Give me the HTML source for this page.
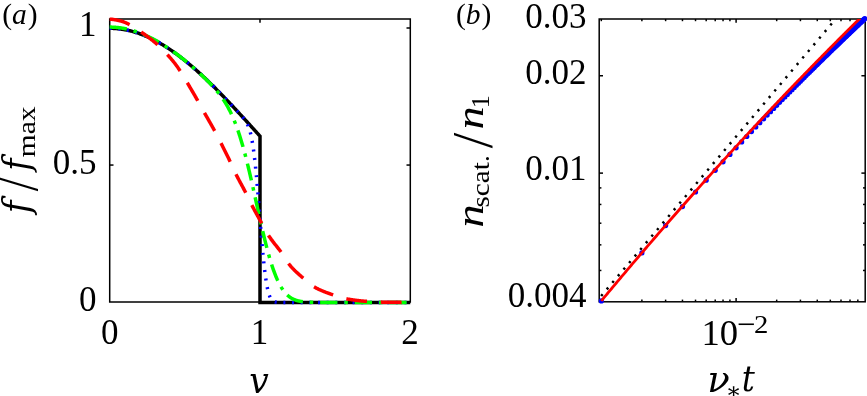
<!DOCTYPE html>
<html><head><meta charset="utf-8"><title>figure</title>
<style>html,body{margin:0;padding:0;background:#fff;}svg{display:block}</style></head>
<body>
<svg width="867" height="396" viewBox="0 0 867 396">
<rect width="867" height="396" fill="#fff"/>
<defs>
<clipPath id="clipa"><rect x="107.7" y="15.0" width="303.20000000000005" height="290.0"/></clipPath>
<clipPath id="clipb"><rect x="599.2" y="19.0" width="266.0" height="282.8"/></clipPath>
</defs>
<g stroke="#000" stroke-width="1.5" fill="none">
<rect x="109.7" y="19.0" width="300.6" height="283.0"/>
<line x1="260.0" y1="19.0" x2="260.0" y2="22.8"/><line x1="260.0" y1="302.0" x2="260.0" y2="298.2"/><line x1="109.7" y1="165.05" x2="113.5" y2="165.05"/><line x1="410.3" y1="165.05" x2="406.5" y2="165.05"/><line x1="109.7" y1="28.00" x2="113.5" y2="28.00"/><line x1="410.3" y1="28.00" x2="406.5" y2="28.00"/>
<rect x="599.2" y="19.0" width="266.0" height="282.8"/>
<line x1="601.30" y1="301.8" x2="601.30" y2="299.6"/><line x1="601.30" y1="19.0" x2="601.30" y2="21.2"/><line x1="641.88" y1="301.8" x2="641.88" y2="299.6"/><line x1="641.88" y1="19.0" x2="641.88" y2="21.2"/><line x1="665.62" y1="301.8" x2="665.62" y2="299.6"/><line x1="665.62" y1="19.0" x2="665.62" y2="21.2"/><line x1="682.46" y1="301.8" x2="682.46" y2="299.6"/><line x1="682.46" y1="19.0" x2="682.46" y2="21.2"/><line x1="695.52" y1="301.8" x2="695.52" y2="299.6"/><line x1="695.52" y1="19.0" x2="695.52" y2="21.2"/><line x1="706.19" y1="301.8" x2="706.19" y2="299.6"/><line x1="706.19" y1="19.0" x2="706.19" y2="21.2"/><line x1="715.22" y1="301.8" x2="715.22" y2="299.6"/><line x1="715.22" y1="19.0" x2="715.22" y2="21.2"/><line x1="723.04" y1="301.8" x2="723.04" y2="299.6"/><line x1="723.04" y1="19.0" x2="723.04" y2="21.2"/><line x1="729.93" y1="301.8" x2="729.93" y2="299.6"/><line x1="729.93" y1="19.0" x2="729.93" y2="21.2"/><line x1="736.10" y1="301.8" x2="736.10" y2="298.0"/><line x1="736.10" y1="19.0" x2="736.10" y2="22.8"/><line x1="776.68" y1="301.8" x2="776.68" y2="299.6"/><line x1="776.68" y1="19.0" x2="776.68" y2="21.2"/><line x1="800.42" y1="301.8" x2="800.42" y2="299.6"/><line x1="800.42" y1="19.0" x2="800.42" y2="21.2"/><line x1="817.26" y1="301.8" x2="817.26" y2="299.6"/><line x1="817.26" y1="19.0" x2="817.26" y2="21.2"/><line x1="830.32" y1="301.8" x2="830.32" y2="299.6"/><line x1="830.32" y1="19.0" x2="830.32" y2="21.2"/><line x1="840.99" y1="301.8" x2="840.99" y2="299.6"/><line x1="840.99" y1="19.0" x2="840.99" y2="21.2"/><line x1="850.02" y1="301.8" x2="850.02" y2="299.6"/><line x1="850.02" y1="19.0" x2="850.02" y2="21.2"/><line x1="857.84" y1="301.8" x2="857.84" y2="299.6"/><line x1="857.84" y1="19.0" x2="857.84" y2="21.2"/><line x1="599.2" y1="270.46" x2="601.4000000000001" y2="270.46"/><line x1="865.2" y1="270.46" x2="863.0" y2="270.46"/><line x1="599.2" y1="244.85" x2="601.4000000000001" y2="244.85"/><line x1="865.2" y1="244.85" x2="863.0" y2="244.85"/><line x1="599.2" y1="223.20" x2="601.4000000000001" y2="223.20"/><line x1="865.2" y1="223.20" x2="863.0" y2="223.20"/><line x1="599.2" y1="204.45" x2="601.4000000000001" y2="204.45"/><line x1="865.2" y1="204.45" x2="863.0" y2="204.45"/><line x1="599.2" y1="187.90" x2="601.4000000000001" y2="187.90"/><line x1="865.2" y1="187.90" x2="863.0" y2="187.90"/><line x1="599.2" y1="173.11" x2="603.0" y2="173.11"/><line x1="865.2" y1="173.11" x2="861.4000000000001" y2="173.11"/><line x1="599.2" y1="75.75" x2="603.0" y2="75.75"/><line x1="865.2" y1="75.75" x2="861.4000000000001" y2="75.75"/>
</g>

<g clip-path="url(#clipa)" fill="none" stroke-linejoin="miter">
<path d="M109.70,28.30 L110.45,28.30 L111.20,28.31 L111.95,28.33 L112.71,28.35 L113.46,28.39 L114.21,28.42 L114.96,28.47 L115.71,28.52 L116.46,28.58 L117.22,28.64 L117.97,28.71 L118.72,28.79 L119.47,28.88 L120.22,28.97 L120.97,29.07 L121.72,29.18 L122.48,29.29 L123.23,29.41 L123.98,29.53 L124.73,29.67 L125.48,29.81 L126.23,29.95 L126.98,30.11 L127.74,30.27 L128.49,30.43 L129.24,30.61 L129.99,30.79 L130.74,30.97 L131.49,31.17 L132.25,31.37 L133.00,31.57 L133.75,31.79 L134.50,32.01 L135.25,32.23 L136.00,32.47 L136.75,32.70 L137.51,32.95 L138.26,33.20 L139.01,33.46 L139.76,33.73 L140.51,34.00 L141.26,34.28 L142.01,34.56 L142.77,34.85 L143.52,35.15 L144.27,35.45 L145.02,35.77 L145.77,36.08 L146.52,36.40 L147.28,36.73 L148.03,37.07 L148.78,37.41 L149.53,37.76 L150.28,38.11 L151.03,38.47 L151.78,38.84 L152.54,39.21 L153.29,39.59 L154.04,39.97 L154.79,40.36 L155.54,40.76 L156.29,41.16 L157.04,41.57 L157.80,41.98 L158.55,42.40 L159.30,42.83 L160.05,43.26 L160.80,43.69 L161.55,44.14 L162.31,44.58 L163.06,45.04 L163.81,45.50 L164.56,45.96 L165.31,46.43 L166.06,46.91 L166.81,47.39 L167.57,47.88 L168.32,48.37 L169.07,48.87 L169.82,49.37 L170.57,49.88 L171.32,50.40 L172.07,50.92 L172.83,51.44 L173.58,51.97 L174.33,52.50 L175.08,53.04 L175.83,53.59 L176.58,54.14 L177.34,54.69 L178.09,55.25 L178.84,55.82 L179.59,56.39 L180.34,56.96 L181.09,57.54 L181.84,58.13 L182.60,58.71 L183.35,59.31 L184.10,59.91 L184.85,60.51 L185.60,61.11 L186.35,61.73 L187.10,62.34 L187.86,62.96 L188.61,63.59 L189.36,64.22 L190.11,64.85 L190.86,65.49 L191.61,66.13 L192.37,66.77 L193.12,67.42 L193.87,68.08 L194.62,68.74 L195.37,69.40 L196.12,70.06 L196.87,70.73 L197.63,71.41 L198.38,72.09 L199.13,72.77 L199.88,73.45 L200.63,74.14 L201.38,74.83 L202.13,75.53 L202.89,76.23 L203.64,76.93 L204.39,77.64 L205.14,78.35 L205.89,79.06 L206.64,79.78 L207.40,80.50 L208.15,81.22 L208.90,81.95 L209.65,82.67 L210.40,83.41 L211.15,84.14 L211.90,84.88 L212.66,85.62 L213.41,86.36 L214.16,87.11 L214.91,87.86 L215.66,88.61 L216.41,89.37 L217.16,90.13 L217.92,90.89 L218.67,91.65 L219.42,92.41 L220.17,93.18 L220.92,93.95 L221.67,94.72 L222.43,95.50 L223.18,96.28 L223.93,97.05 L224.68,97.84 L225.43,98.62 L226.18,99.41 L226.93,100.19 L227.69,100.98 L228.44,101.77 L229.19,102.57 L229.94,103.36 L230.69,104.16 L231.44,104.96 L232.19,105.76 L232.95,106.56 L233.70,107.36 L234.45,108.17 L235.20,108.98 L235.95,109.79 L236.70,110.59 L237.46,111.41 L238.21,112.22 L238.96,113.03 L239.71,113.85 L240.46,114.66 L241.21,115.48 L241.96,116.30 L242.72,117.12 L243.47,117.94 L244.22,118.76 L244.97,119.58 L245.72,120.40 L246.47,121.23 L247.22,122.05 L247.98,122.88 L248.73,123.70 L249.48,124.53 L250.23,125.36 L250.98,126.19 L251.73,127.02 L252.49,127.84 L253.24,128.67 L253.99,129.50 L254.74,130.33 L255.49,131.16 L256.24,131.99 L256.99,132.83 L257.75,133.66 L258.50,134.49 L259.25,135.32 L260.00,136.15 L260.00,302.40 L410.30,302.40" stroke="#000" stroke-width="3.5"/>
<path d="M109.70,28.30 L110.08,28.30 L110.45,28.30 L110.83,28.31 L111.20,28.31 L111.58,28.32 L111.95,28.33 L112.33,28.34 L112.71,28.35 L113.08,28.37 L113.46,28.39 L113.83,28.40 L114.21,28.42 L114.58,28.44 L114.96,28.47 L115.34,28.49 L115.71,28.52 L116.09,28.55 L116.46,28.58 L116.84,28.61 L117.22,28.64 L117.59,28.68 L117.97,28.71 L118.34,28.75 L118.72,28.79 L119.09,28.83 L119.47,28.88 L119.85,28.92 L120.22,28.97 L120.60,29.02 L120.97,29.07 L121.35,29.12 L121.72,29.18 L122.10,29.23 L122.48,29.29 L122.85,29.35 L123.23,29.41 L123.60,29.47 L123.98,29.53 L124.35,29.60 L124.73,29.67 L125.11,29.74 L125.48,29.81 L125.86,29.88 L126.23,29.95 L126.61,30.03 L126.98,30.11 L127.36,30.19 L127.74,30.27 L128.11,30.35 L128.49,30.43 L128.86,30.52 L129.24,30.61 L129.61,30.70 L129.99,30.79 L130.37,30.88 L130.74,30.97 L131.12,31.07 L131.49,31.17 L131.87,31.27 L132.25,31.37 L132.62,31.47 L133.00,31.57 L133.37,31.68 L133.75,31.79 L134.12,31.90 L134.50,32.01 L134.88,32.12 L135.25,32.23 L135.63,32.35 L136.00,32.47 L136.38,32.58 L136.75,32.70 L137.13,32.83 L137.51,32.95 L137.88,33.08 L138.26,33.20 L138.63,33.33 L139.01,33.46 L139.38,33.59 L139.76,33.73 L140.14,33.86 L140.51,34.00 L140.89,34.14 L141.26,34.28 L141.64,34.42 L142.01,34.56 L142.39,34.71 L142.77,34.85 L143.14,35.00 L143.52,35.15 L143.89,35.30 L144.27,35.45 L144.64,35.61 L145.02,35.77 L145.40,35.92 L145.77,36.08 L146.15,36.24 L146.52,36.40 L146.90,36.57 L147.28,36.73 L147.65,36.90 L148.03,37.07 L148.40,37.24 L148.78,37.41 L149.15,37.58 L149.53,37.76 L149.91,37.93 L150.28,38.11 L150.66,38.29 L151.03,38.47 L151.41,38.65 L151.78,38.84 L152.16,39.02 L152.54,39.21 L152.91,39.40 L153.29,39.59 L153.66,39.78 L154.04,39.97 L154.41,40.17 L154.79,40.36 L155.17,40.56 L155.54,40.76 L155.92,40.96 L156.29,41.16 L156.67,41.36 L157.04,41.57 L157.42,41.77 L157.80,41.98 L158.17,42.19 L158.55,42.40 L158.92,42.61 L159.30,42.83 L159.67,43.04 L160.05,43.26 L160.43,43.47 L160.80,43.69 L161.18,43.91 L161.55,44.14 L161.93,44.36 L162.31,44.58 L162.68,44.81 L163.06,45.04 L163.43,45.27 L163.81,45.50 L164.18,45.73 L164.56,45.96 L164.94,46.20 L165.31,46.43 L165.69,46.67 L166.06,46.91 L166.44,47.15 L166.81,47.39 L167.19,47.64 L167.57,47.88 L167.94,48.13 L168.32,48.37 L168.69,48.62 L169.07,48.87 L169.44,49.12 L169.82,49.37 L170.20,49.63 L170.57,49.88 L170.95,50.14 L171.32,50.40 L171.70,50.66 L172.07,50.92 L172.45,51.18 L172.83,51.44 L173.20,51.70 L173.58,51.97 L173.95,52.24 L174.33,52.50 L174.70,52.77 L175.08,53.04 L175.46,53.32 L175.83,53.59 L176.21,53.86 L176.58,54.14 L176.96,54.42 L177.34,54.69 L177.71,54.97 L178.09,55.25 L178.46,55.54 L178.84,55.82 L179.21,56.10 L179.59,56.39 L179.97,56.67 L180.34,56.96 L180.72,57.25 L181.09,57.54 L181.47,57.83 L181.84,58.13 L182.22,58.42 L182.60,58.71 L182.97,59.01 L183.35,59.31 L183.72,59.61 L184.10,59.91 L184.47,60.21 L184.85,60.51 L185.23,60.81 L185.60,61.11 L185.98,61.42 L186.35,61.73 L186.73,62.03 L187.10,62.34 L187.48,62.65 L187.86,62.96 L188.23,63.27 L188.61,63.59 L188.98,63.90 L189.36,64.22 L189.73,64.53 L190.11,64.85 L190.49,65.17 L190.86,65.49 L191.24,65.81 L191.61,66.13 L191.99,66.45 L192.37,66.77 L192.74,67.10 L193.12,67.42 L193.49,67.75 L193.87,68.08 L194.24,68.41 L194.62,68.74 L195.00,69.07 L195.37,69.40 L195.75,69.73 L196.12,70.06 L196.50,70.40 L196.87,70.73 L197.25,71.07 L197.63,71.41 L198.00,71.75 L198.38,72.09 L198.75,72.43 L199.13,72.77 L199.50,73.11 L199.88,73.45 L200.26,73.80 L200.63,74.14 L201.01,74.49 L201.38,74.83 L201.76,75.18 L202.13,75.53 L202.51,75.88 L202.89,76.23 L203.26,76.58 L203.64,76.93 L204.01,77.28 L204.39,77.64 L204.76,77.99 L205.14,78.35 L205.52,78.70 L205.89,79.06 L206.27,79.42 L206.64,79.78 L207.02,80.14 L207.40,80.50 L207.77,80.86 L208.15,81.22 L208.52,81.58 L208.90,81.95 L209.27,82.31 L209.65,82.67 L210.03,83.04 L210.40,83.41 L210.78,83.77 L211.15,84.14 L211.53,84.51 L211.90,84.88 L212.28,85.25 L212.66,85.62 L213.03,85.99 L213.41,86.36 L213.78,86.74 L214.16,87.11 L214.53,87.49 L214.91,87.86 L215.29,88.24 L215.66,88.61 L216.04,88.99 L216.41,89.37 L216.79,89.75 L217.16,90.13 L217.54,90.51 L217.92,90.89 L218.29,91.27 L218.67,91.65 L219.04,92.03 L219.42,92.41 L219.79,92.80 L220.17,93.18 L220.55,93.57 L220.92,93.95 L221.30,94.34 L221.67,94.72 L222.05,95.11 L222.43,95.50 L222.80,95.89 L223.18,96.28 L223.55,96.66 L223.93,97.05 L224.30,97.45 L224.68,97.84 L225.06,98.23 L225.43,98.62 L225.81,99.01 L226.18,99.41 L226.56,99.80 L226.93,100.19 L227.31,100.59 L227.69,100.98 L228.06,101.38 L228.44,101.77 L228.81,102.17 L229.19,102.57 L229.56,102.96 L229.94,103.36 L230.32,103.76 L230.69,104.16 L231.07,104.56 L231.44,104.96 L231.82,105.36 L232.19,105.76 L232.57,106.16 L232.95,106.56 L233.32,106.96 L233.70,107.36 L234.07,107.77 L234.45,108.17 L234.82,108.57 L235.20,108.98 L235.58,109.38 L235.95,109.79 L236.33,110.19 L236.70,110.60 L237.08,111.00 L237.46,111.41 L237.83,111.82 L238.21,112.23 L238.58,112.63 L238.96,113.05 L239.33,113.46 L239.71,113.87 L240.09,114.28 L240.46,114.70 L240.84,115.12 L241.21,115.54 L241.59,115.97 L241.96,116.40 L242.34,116.84 L242.72,117.28 L243.09,117.73 L243.47,118.19 L243.84,118.67 L244.22,119.15 L244.59,119.66 L244.97,120.18 L245.35,120.72 L245.72,121.29 L246.10,121.90 L246.47,122.53 L246.85,123.21 L247.22,123.93 L247.60,124.70 L247.98,125.53 L248.35,126.43 L248.73,127.40 L249.10,128.45 L249.48,129.60 L249.85,130.84 L250.23,132.18 L250.61,133.65 L250.98,135.24 L251.36,136.96 L251.73,138.83 L252.11,140.85 L252.49,143.02 L252.86,145.36 L253.24,147.87 L253.61,150.56 L253.99,153.42 L254.36,156.46 L254.74,159.68 L255.12,163.08 L255.49,166.66 L255.87,170.40 L256.24,174.30 L256.62,178.36 L256.99,182.55 L257.37,186.87 L257.75,191.31 L258.12,195.84 L258.50,200.45 L258.87,205.12 L259.25,209.82 L259.62,214.55 L260.00,219.27 L260.38,223.98 L260.75,228.64 L261.13,233.23 L261.50,237.75 L261.88,242.16 L262.25,246.45 L262.63,250.61 L263.01,254.62 L263.38,258.47 L263.76,262.16 L264.13,265.66 L264.51,268.97 L264.88,272.10 L265.26,275.03 L265.64,277.77 L266.01,280.32 L266.39,282.68 L266.76,284.85 L267.14,286.85 L267.52,288.67 L267.89,290.32 L268.27,291.82 L268.64,293.17 L269.02,294.37 L269.39,295.45 L269.77,296.41 L270.15,297.25 L270.52,298.00 L270.90,298.65 L271.27,299.22 L271.65,299.71 L272.02,300.14 L272.40,300.50 L272.78,300.82 L273.15,301.09 L273.53,301.31 L273.90,301.50 L274.28,301.66 L274.65,301.80 L275.03,301.91 L275.41,302.00 L275.78,302.08 L276.16,302.14 L276.53,302.19 L276.91,302.24 L277.28,302.27 L277.66,302.30 L278.04,302.32 L278.41,302.34 L278.79,302.35 L279.16,302.36 L279.54,302.37 L279.91,302.38 L280.29,302.38 L280.67,302.39 L281.04,302.39 L281.42,302.39 L281.79,302.39 L282.17,302.40 L282.55,302.40 L282.92,302.40 L283.30,302.40 L283.67,302.40 L284.05,302.40 L284.42,302.40 L284.80,302.40 L285.18,302.40 L285.55,302.40 L285.93,302.40 L286.30,302.40 L286.68,302.40 L287.05,302.40 L287.43,302.40 L287.81,302.40 L288.18,302.40 L288.56,302.40 L288.93,302.40 L289.31,302.40 L289.68,302.40 L290.06,302.40 L290.44,302.40 L290.81,302.40 L291.19,302.40 L291.56,302.40 L291.94,302.40 L292.31,302.40 L292.69,302.40 L293.07,302.40 L293.44,302.40 L293.82,302.40 L294.19,302.40 L294.57,302.40 L294.94,302.40 L295.32,302.40 L295.70,302.40 L296.07,302.40 L296.45,302.40 L296.82,302.40 L297.20,302.40 L297.57,302.40 L297.95,302.40 L298.33,302.40 L298.70,302.40 L299.08,302.40 L299.45,302.40 L299.83,302.40 L300.21,302.40 L300.58,302.40 L300.96,302.40 L301.33,302.40 L301.71,302.40 L302.08,302.40 L302.46,302.40 L302.84,302.40 L303.21,302.40 L303.59,302.40 L303.96,302.40 L304.34,302.40 L304.71,302.40 L305.09,302.40 L305.47,302.40 L305.84,302.40 L306.22,302.40 L306.59,302.40 L306.97,302.40 L307.34,302.40 L307.72,302.40 L308.10,302.40 L308.47,302.40 L308.85,302.40 L309.22,302.40 L309.60,302.40 L309.97,302.40 L310.35,302.40 L310.73,302.40 L311.10,302.40 L311.48,302.40 L311.85,302.40 L312.23,302.40 L312.61,302.40 L312.98,302.40 L313.36,302.40 L313.73,302.40 L314.11,302.40 L314.48,302.40 L314.86,302.40 L315.24,302.40 L315.61,302.40 L315.99,302.40 L316.36,302.40 L316.74,302.40 L317.11,302.40 L317.49,302.40 L317.87,302.40 L318.24,302.40 L318.62,302.40 L318.99,302.40 L319.37,302.40 L319.74,302.40 L320.12,302.40 L320.50,302.40 L320.87,302.40 L321.25,302.40 L321.62,302.40 L322.00,302.40 L322.37,302.40 L322.75,302.40 L323.13,302.40 L323.50,302.40 L323.88,302.40 L324.25,302.40 L324.63,302.40 L325.00,302.40 L325.38,302.40 L325.76,302.40 L326.13,302.40 L326.51,302.40 L326.88,302.40 L327.26,302.40 L327.63,302.40 L328.01,302.40 L328.39,302.40 L328.76,302.40 L329.14,302.40 L329.51,302.40 L329.89,302.40 L330.27,302.40 L330.64,302.40 L331.02,302.40 L331.39,302.40 L331.77,302.40 L332.14,302.40 L332.52,302.40 L332.90,302.40 L333.27,302.40 L333.65,302.40 L334.02,302.40 L334.40,302.40 L334.77,302.40 L335.15,302.40 L335.53,302.40 L335.90,302.40 L336.28,302.40 L336.65,302.40 L337.03,302.40 L337.40,302.40 L337.78,302.40 L338.16,302.40 L338.53,302.40 L338.91,302.40 L339.28,302.40 L339.66,302.40 L340.03,302.40 L340.41,302.40 L340.79,302.40 L341.16,302.40 L341.54,302.40 L341.91,302.40 L342.29,302.40 L342.67,302.40 L343.04,302.40 L343.42,302.40 L343.79,302.40 L344.17,302.40 L344.54,302.40 L344.92,302.40 L345.30,302.40 L345.67,302.40 L346.05,302.40 L346.42,302.40 L346.80,302.40 L347.17,302.40 L347.55,302.40 L347.93,302.40 L348.30,302.40 L348.68,302.40 L349.05,302.40 L349.43,302.40 L349.80,302.40 L350.18,302.40 L350.56,302.40 L350.93,302.40 L351.31,302.40 L351.68,302.40 L352.06,302.40 L352.43,302.40 L352.81,302.40 L353.19,302.40 L353.56,302.40 L353.94,302.40 L354.31,302.40 L354.69,302.40 L355.06,302.40 L355.44,302.40 L355.82,302.40 L356.19,302.40 L356.57,302.40 L356.94,302.40 L357.32,302.40 L357.70,302.40 L358.07,302.40 L358.45,302.40 L358.82,302.40 L359.20,302.40 L359.57,302.40 L359.95,302.40 L360.33,302.40 L360.70,302.40 L361.08,302.40 L361.45,302.40 L361.83,302.40 L362.20,302.40 L362.58,302.40 L362.96,302.40 L363.33,302.40 L363.71,302.40 L364.08,302.40 L364.46,302.40 L364.83,302.40 L365.21,302.40 L365.59,302.40 L365.96,302.40 L366.34,302.40 L366.71,302.40 L367.09,302.40 L367.46,302.40 L367.84,302.40 L368.22,302.40 L368.59,302.40 L368.97,302.40 L369.34,302.40 L369.72,302.40 L370.09,302.40 L370.47,302.40 L370.85,302.40 L371.22,302.40 L371.60,302.40 L371.97,302.40 L372.35,302.40 L372.73,302.40 L373.10,302.40 L373.48,302.40 L373.85,302.40 L374.23,302.40 L374.60,302.40 L374.98,302.40 L375.36,302.40 L375.73,302.40 L376.11,302.40 L376.48,302.40 L376.86,302.40 L377.23,302.40 L377.61,302.40 L377.99,302.40 L378.36,302.40 L378.74,302.40 L379.11,302.40 L379.49,302.40 L379.86,302.40 L380.24,302.40 L380.62,302.40 L380.99,302.40 L381.37,302.40 L381.74,302.40 L382.12,302.40 L382.49,302.40 L382.87,302.40 L383.25,302.40 L383.62,302.40 L384.00,302.40 L384.37,302.40 L384.75,302.40 L385.12,302.40 L385.50,302.40 L385.88,302.40 L386.25,302.40 L386.63,302.40 L387.00,302.40 L387.38,302.40 L387.75,302.40 L388.13,302.40 L388.51,302.40 L388.88,302.40 L389.26,302.40 L389.63,302.40 L390.01,302.40 L390.39,302.40 L390.76,302.40 L391.14,302.40 L391.51,302.40 L391.89,302.40 L392.26,302.40 L392.64,302.40 L393.02,302.40 L393.39,302.40 L393.77,302.40 L394.14,302.40 L394.52,302.40 L394.89,302.40 L395.27,302.40 L395.65,302.40 L396.02,302.40 L396.40,302.40 L396.77,302.40 L397.15,302.40 L397.52,302.40 L397.90,302.40 L398.28,302.40 L398.65,302.40 L399.03,302.40 L399.40,302.40 L399.78,302.40 L400.15,302.40 L400.53,302.40 L400.91,302.40 L401.28,302.40 L401.66,302.40 L402.03,302.40 L402.41,302.40 L402.79,302.40 L403.16,302.40 L403.54,302.40 L403.91,302.40 L404.29,302.40 L404.66,302.40 L405.04,302.40 L405.42,302.40 L405.79,302.40 L406.17,302.40 L406.54,302.40 L406.92,302.40 L407.29,302.40 L407.67,302.40 L408.05,302.40 L408.42,302.40 L408.80,302.40 L409.17,302.40 L409.55,302.40 L409.92,302.40 L410.30,302.40" stroke="#0000ff" stroke-width="3.5" stroke-dasharray="2 6.65"/>
<path d="M109.70,27.09 L110.08,27.09 L110.45,27.10 L110.83,27.10 L111.20,27.11 L111.58,27.12 L111.95,27.13 L112.33,27.14 L112.71,27.15 L113.08,27.17 L113.46,27.19 L113.83,27.21 L114.21,27.23 L114.58,27.25 L114.96,27.28 L115.34,27.31 L115.71,27.34 L116.09,27.37 L116.46,27.40 L116.84,27.43 L117.22,27.47 L117.59,27.51 L117.97,27.55 L118.34,27.59 L118.72,27.64 L119.09,27.68 L119.47,27.73 L119.85,27.78 L120.22,27.83 L120.60,27.88 L120.97,27.94 L121.35,28.00 L121.72,28.06 L122.10,28.12 L122.48,28.18 L122.85,28.24 L123.23,28.31 L123.60,28.38 L123.98,28.45 L124.35,28.52 L124.73,28.59 L125.11,28.67 L125.48,28.75 L125.86,28.82 L126.23,28.91 L126.61,28.99 L126.98,29.07 L127.36,29.16 L127.74,29.25 L128.11,29.34 L128.49,29.43 L128.86,29.52 L129.24,29.62 L129.61,29.71 L129.99,29.81 L130.37,29.91 L130.74,30.01 L131.12,30.12 L131.49,30.22 L131.87,30.33 L132.25,30.44 L132.62,30.55 L133.00,30.66 L133.37,30.77 L133.75,30.89 L134.12,31.01 L134.50,31.13 L134.88,31.25 L135.25,31.37 L135.63,31.49 L136.00,31.62 L136.38,31.75 L136.75,31.88 L137.13,32.01 L137.51,32.14 L137.88,32.27 L138.26,32.41 L138.63,32.55 L139.01,32.69 L139.38,32.83 L139.76,32.97 L140.14,33.11 L140.51,33.26 L140.89,33.41 L141.26,33.56 L141.64,33.71 L142.01,33.86 L142.39,34.01 L142.77,34.17 L143.14,34.32 L143.52,34.48 L143.89,34.64 L144.27,34.80 L144.64,34.97 L145.02,35.13 L145.40,35.30 L145.77,35.46 L146.15,35.63 L146.52,35.80 L146.90,35.98 L147.28,36.15 L147.65,36.32 L148.03,36.50 L148.40,36.68 L148.78,36.86 L149.15,37.04 L149.53,37.22 L149.91,37.41 L150.28,37.59 L150.66,37.78 L151.03,37.97 L151.41,38.16 L151.78,38.35 L152.16,38.54 L152.54,38.74 L152.91,38.94 L153.29,39.13 L153.66,39.33 L154.04,39.53 L154.41,39.73 L154.79,39.94 L155.17,40.14 L155.54,40.35 L155.92,40.56 L156.29,40.76 L156.67,40.97 L157.04,41.19 L157.42,41.40 L157.80,41.61 L158.17,41.83 L158.55,42.05 L158.92,42.27 L159.30,42.49 L159.67,42.71 L160.05,42.93 L160.43,43.15 L160.80,43.38 L161.18,43.61 L161.55,43.83 L161.93,44.06 L162.31,44.29 L162.68,44.53 L163.06,44.76 L163.43,44.99 L163.81,45.23 L164.18,45.47 L164.56,45.71 L164.94,45.95 L165.31,46.19 L165.69,46.43 L166.06,46.68 L166.44,46.92 L166.81,47.17 L167.19,47.41 L167.57,47.66 L167.94,47.91 L168.32,48.17 L168.69,48.42 L169.07,48.67 L169.44,48.93 L169.82,49.19 L170.20,49.44 L170.57,49.70 L170.95,49.96 L171.32,50.23 L171.70,50.49 L172.07,50.75 L172.45,51.02 L172.83,51.28 L173.20,51.55 L173.58,51.82 L173.95,52.09 L174.33,52.36 L174.70,52.64 L175.08,52.91 L175.46,53.19 L175.83,53.46 L176.21,53.74 L176.58,54.02 L176.96,54.30 L177.34,54.58 L177.71,54.86 L178.09,55.14 L178.46,55.43 L178.84,55.72 L179.21,56.00 L179.59,56.29 L179.97,56.58 L180.34,56.87 L180.72,57.16 L181.09,57.45 L181.47,57.75 L181.84,58.04 L182.22,58.34 L182.60,58.64 L182.97,58.93 L183.35,59.23 L183.72,59.53 L184.10,59.84 L184.47,60.14 L184.85,60.44 L185.23,60.75 L185.60,61.05 L185.98,61.36 L186.35,61.67 L186.73,61.98 L187.10,62.29 L187.48,62.60 L187.86,62.91 L188.23,63.23 L188.61,63.54 L188.98,63.86 L189.36,64.17 L189.73,64.49 L190.11,64.81 L190.49,65.13 L190.86,65.45 L191.24,65.77 L191.61,66.10 L191.99,66.42 L192.37,66.75 L192.74,67.07 L193.12,67.40 L193.49,67.73 L193.87,68.06 L194.24,68.39 L194.62,68.72 L195.00,69.05 L195.37,69.39 L195.75,69.72 L196.12,70.06 L196.50,70.40 L196.87,70.73 L197.25,71.07 L197.63,71.41 L198.00,71.76 L198.38,72.10 L198.75,72.44 L199.13,72.79 L199.50,73.13 L199.88,73.48 L200.26,73.83 L200.63,74.18 L201.01,74.53 L201.38,74.88 L201.76,75.24 L202.13,75.59 L202.51,75.95 L202.89,76.30 L203.26,76.66 L203.64,77.02 L204.01,77.38 L204.39,77.75 L204.76,78.11 L205.14,78.48 L205.52,78.84 L205.89,79.21 L206.27,79.58 L206.64,79.96 L207.02,80.33 L207.40,80.71 L207.77,81.08 L208.15,81.46 L208.52,81.85 L208.90,82.23 L209.27,82.62 L209.65,83.00 L210.03,83.39 L210.40,83.79 L210.78,84.18 L211.15,84.58 L211.53,84.98 L211.90,85.38 L212.28,85.79 L212.66,86.20 L213.03,86.61 L213.41,87.02 L213.78,87.44 L214.16,87.86 L214.53,88.29 L214.91,88.72 L215.29,89.15 L215.66,89.58 L216.04,90.02 L216.41,90.47 L216.79,90.92 L217.16,91.37 L217.54,91.83 L217.92,92.29 L218.29,92.76 L218.67,93.23 L219.04,93.71 L219.42,94.20 L219.79,94.69 L220.17,95.18 L220.55,95.69 L220.92,96.20 L221.30,96.71 L221.67,97.23 L222.05,97.77 L222.43,98.30 L222.80,98.85 L223.18,99.40 L223.55,99.96 L223.93,100.53 L224.30,101.11 L224.68,101.70 L225.06,102.30 L225.43,102.90 L225.81,103.52 L226.18,104.15 L226.56,104.78 L226.93,105.43 L227.31,106.09 L227.69,106.76 L228.06,107.44 L228.44,108.14 L228.81,108.84 L229.19,109.56 L229.56,110.29 L229.94,111.03 L230.32,111.79 L230.69,112.56 L231.07,113.35 L231.44,114.15 L231.82,114.96 L232.19,115.79 L232.57,116.63 L232.95,117.49 L233.32,118.36 L233.70,119.25 L234.07,120.16 L234.45,121.08 L234.82,122.02 L235.20,122.97 L235.58,123.95 L235.95,124.93 L236.33,125.94 L236.70,126.96 L237.08,128.00 L237.46,129.06 L237.83,130.14 L238.21,131.23 L238.58,132.35 L238.96,133.48 L239.33,134.62 L239.71,135.79 L240.09,136.98 L240.46,138.18 L240.84,139.40 L241.21,140.64 L241.59,141.90 L241.96,143.18 L242.34,144.47 L242.72,145.78 L243.09,147.11 L243.47,148.46 L243.84,149.82 L244.22,151.21 L244.59,152.60 L244.97,154.02 L245.35,155.45 L245.72,156.90 L246.10,158.37 L246.47,159.85 L246.85,161.34 L247.22,162.85 L247.60,164.38 L247.98,165.92 L248.35,167.47 L248.73,169.04 L249.10,170.62 L249.48,172.21 L249.85,173.81 L250.23,175.43 L250.61,177.05 L250.98,178.69 L251.36,180.33 L251.73,181.99 L252.11,183.65 L252.49,185.32 L252.86,187.00 L253.24,188.68 L253.61,190.37 L253.99,192.06 L254.36,193.76 L254.74,195.46 L255.12,197.17 L255.49,198.88 L255.87,200.59 L256.24,202.30 L256.62,204.01 L256.99,205.72 L257.37,207.42 L257.75,209.13 L258.12,210.83 L258.50,212.53 L258.87,214.23 L259.25,215.91 L259.62,217.60 L260.00,219.27 L260.38,220.94 L260.75,222.61 L261.13,224.26 L261.50,225.90 L261.88,227.54 L262.25,229.16 L262.63,230.77 L263.01,232.37 L263.38,233.95 L263.76,235.53 L264.13,237.09 L264.51,238.63 L264.88,240.16 L265.26,241.67 L265.64,243.17 L266.01,244.65 L266.39,246.11 L266.76,247.56 L267.14,248.99 L267.52,250.39 L267.89,251.78 L268.27,253.15 L268.64,254.51 L269.02,255.84 L269.39,257.15 L269.77,258.44 L270.15,259.70 L270.52,260.95 L270.90,262.18 L271.27,263.38 L271.65,264.56 L272.02,265.72 L272.40,266.86 L272.78,267.98 L273.15,269.07 L273.53,270.14 L273.90,271.19 L274.28,272.22 L274.65,273.22 L275.03,274.20 L275.41,275.16 L275.78,276.10 L276.16,277.01 L276.53,277.91 L276.91,278.78 L277.28,279.63 L277.66,280.45 L278.04,281.26 L278.41,282.04 L278.79,282.80 L279.16,283.55 L279.54,284.27 L279.91,284.97 L280.29,285.65 L280.67,286.31 L281.04,286.95 L281.42,287.57 L281.79,288.17 L282.17,288.75 L282.55,289.32 L282.92,289.87 L283.30,290.39 L283.67,290.91 L284.05,291.40 L284.42,291.88 L284.80,292.34 L285.18,292.78 L285.55,293.21 L285.93,293.62 L286.30,294.02 L286.68,294.41 L287.05,294.78 L287.43,295.13 L287.81,295.47 L288.18,295.80 L288.56,296.12 L288.93,296.42 L289.31,296.71 L289.68,296.99 L290.06,297.26 L290.44,297.51 L290.81,297.76 L291.19,297.99 L291.56,298.22 L291.94,298.43 L292.31,298.64 L292.69,298.84 L293.07,299.03 L293.44,299.20 L293.82,299.38 L294.19,299.54 L294.57,299.69 L294.94,299.84 L295.32,299.98 L295.70,300.12 L296.07,300.25 L296.45,300.37 L296.82,300.48 L297.20,300.59 L297.57,300.70 L297.95,300.80 L298.33,300.89 L298.70,300.98 L299.08,301.06 L299.45,301.14 L299.83,301.22 L300.21,301.29 L300.58,301.36 L300.96,301.42 L301.33,301.48 L301.71,301.54 L302.08,301.59 L302.46,301.65 L302.84,301.69 L303.21,301.74 L303.59,301.78 L303.96,301.82 L304.34,301.86 L304.71,301.90 L305.09,301.93 L305.47,301.96 L305.84,301.99 L306.22,302.02 L306.59,302.04 L306.97,302.07 L307.34,302.09 L307.72,302.11 L308.10,302.13 L308.47,302.15 L308.85,302.17 L309.22,302.18 L309.60,302.20 L309.97,302.21 L310.35,302.23 L310.73,302.24 L311.10,302.25 L311.48,302.26 L311.85,302.27 L312.23,302.28 L312.61,302.29 L312.98,302.30 L313.36,302.31 L313.73,302.31 L314.11,302.32 L314.48,302.33 L314.86,302.33 L315.24,302.34 L315.61,302.34 L315.99,302.35 L316.36,302.35 L316.74,302.36 L317.11,302.36 L317.49,302.36 L317.87,302.36 L318.24,302.37 L318.62,302.37 L318.99,302.37 L319.37,302.38 L319.74,302.38 L320.12,302.38 L320.50,302.38 L320.87,302.38 L321.25,302.38 L321.62,302.39 L322.00,302.39 L322.37,302.39 L322.75,302.39 L323.13,302.39 L323.50,302.39 L323.88,302.39 L324.25,302.39 L324.63,302.39 L325.00,302.39 L325.38,302.39 L325.76,302.39 L326.13,302.40 L326.51,302.40 L326.88,302.40 L327.26,302.40 L327.63,302.40 L328.01,302.40 L328.39,302.40 L328.76,302.40 L329.14,302.40 L329.51,302.40 L329.89,302.40 L330.27,302.40 L330.64,302.40 L331.02,302.40 L331.39,302.40 L331.77,302.40 L332.14,302.40 L332.52,302.40 L332.90,302.40 L333.27,302.40 L333.65,302.40 L334.02,302.40 L334.40,302.40 L334.77,302.40 L335.15,302.40 L335.53,302.40 L335.90,302.40 L336.28,302.40 L336.65,302.40 L337.03,302.40 L337.40,302.40 L337.78,302.40 L338.16,302.40 L338.53,302.40 L338.91,302.40 L339.28,302.40 L339.66,302.40 L340.03,302.40 L340.41,302.40 L340.79,302.40 L341.16,302.40 L341.54,302.40 L341.91,302.40 L342.29,302.40 L342.67,302.40 L343.04,302.40 L343.42,302.40 L343.79,302.40 L344.17,302.40 L344.54,302.40 L344.92,302.40 L345.30,302.40 L345.67,302.40 L346.05,302.40 L346.42,302.40 L346.80,302.40 L347.17,302.40 L347.55,302.40 L347.93,302.40 L348.30,302.40 L348.68,302.40 L349.05,302.40 L349.43,302.40 L349.80,302.40 L350.18,302.40 L350.56,302.40 L350.93,302.40 L351.31,302.40 L351.68,302.40 L352.06,302.40 L352.43,302.40 L352.81,302.40 L353.19,302.40 L353.56,302.40 L353.94,302.40 L354.31,302.40 L354.69,302.40 L355.06,302.40 L355.44,302.40 L355.82,302.40 L356.19,302.40 L356.57,302.40 L356.94,302.40 L357.32,302.40 L357.70,302.40 L358.07,302.40 L358.45,302.40 L358.82,302.40 L359.20,302.40 L359.57,302.40 L359.95,302.40 L360.33,302.40 L360.70,302.40 L361.08,302.40 L361.45,302.40 L361.83,302.40 L362.20,302.40 L362.58,302.40 L362.96,302.40 L363.33,302.40 L363.71,302.40 L364.08,302.40 L364.46,302.40 L364.83,302.40 L365.21,302.40 L365.59,302.40 L365.96,302.40 L366.34,302.40 L366.71,302.40 L367.09,302.40 L367.46,302.40 L367.84,302.40 L368.22,302.40 L368.59,302.40 L368.97,302.40 L369.34,302.40 L369.72,302.40 L370.09,302.40 L370.47,302.40 L370.85,302.40 L371.22,302.40 L371.60,302.40 L371.97,302.40 L372.35,302.40 L372.73,302.40 L373.10,302.40 L373.48,302.40 L373.85,302.40 L374.23,302.40 L374.60,302.40 L374.98,302.40 L375.36,302.40 L375.73,302.40 L376.11,302.40 L376.48,302.40 L376.86,302.40 L377.23,302.40 L377.61,302.40 L377.99,302.40 L378.36,302.40 L378.74,302.40 L379.11,302.40 L379.49,302.40 L379.86,302.40 L380.24,302.40 L380.62,302.40 L380.99,302.40 L381.37,302.40 L381.74,302.40 L382.12,302.40 L382.49,302.40 L382.87,302.40 L383.25,302.40 L383.62,302.40 L384.00,302.40 L384.37,302.40 L384.75,302.40 L385.12,302.40 L385.50,302.40 L385.88,302.40 L386.25,302.40 L386.63,302.40 L387.00,302.40 L387.38,302.40 L387.75,302.40 L388.13,302.40 L388.51,302.40 L388.88,302.40 L389.26,302.40 L389.63,302.40 L390.01,302.40 L390.39,302.40 L390.76,302.40 L391.14,302.40 L391.51,302.40 L391.89,302.40 L392.26,302.40 L392.64,302.40 L393.02,302.40 L393.39,302.40 L393.77,302.40 L394.14,302.40 L394.52,302.40 L394.89,302.40 L395.27,302.40 L395.65,302.40 L396.02,302.40 L396.40,302.40 L396.77,302.40 L397.15,302.40 L397.52,302.40 L397.90,302.40 L398.28,302.40 L398.65,302.40 L399.03,302.40 L399.40,302.40 L399.78,302.40 L400.15,302.40 L400.53,302.40 L400.91,302.40 L401.28,302.40 L401.66,302.40 L402.03,302.40 L402.41,302.40 L402.79,302.40 L403.16,302.40 L403.54,302.40 L403.91,302.40 L404.29,302.40 L404.66,302.40 L405.04,302.40 L405.42,302.40 L405.79,302.40 L406.17,302.40 L406.54,302.40 L406.92,302.40 L407.29,302.40 L407.67,302.40 L408.05,302.40 L408.42,302.40 L408.80,302.40 L409.17,302.40 L409.55,302.40 L409.92,302.40 L410.30,302.40" stroke="#00ff00" stroke-width="3.5" stroke-dasharray="17.3 6.9 3.5 6.9"/>
<path d="M109.70,19.12 L110.08,19.14 L110.45,19.17 L110.83,19.20 L111.20,19.23 L111.58,19.27 L111.95,19.31 L112.33,19.36 L112.71,19.41 L113.08,19.46 L113.46,19.51 L113.83,19.57 L114.21,19.63 L114.58,19.69 L114.96,19.76 L115.34,19.82 L115.71,19.89 L116.09,19.97 L116.46,20.04 L116.84,20.12 L117.22,20.19 L117.59,20.27 L117.97,20.35 L118.34,20.44 L118.72,20.52 L119.09,20.61 L119.47,20.69 L119.85,20.78 L120.22,20.87 L120.60,20.97 L120.97,21.07 L121.35,21.18 L121.72,21.29 L122.10,21.40 L122.48,21.52 L122.85,21.65 L123.23,21.78 L123.60,21.91 L123.98,22.05 L124.35,22.20 L124.73,22.34 L125.11,22.50 L125.48,22.65 L125.86,22.81 L126.23,22.98 L126.61,23.14 L126.98,23.32 L127.36,23.49 L127.74,23.67 L128.11,23.86 L128.49,24.04 L128.86,24.23 L129.24,24.43 L129.61,24.62 L129.99,24.82 L130.37,25.03 L130.74,25.24 L131.12,25.45 L131.49,25.66 L131.87,25.88 L132.25,26.09 L132.62,26.32 L133.00,26.54 L133.37,26.77 L133.75,27.00 L134.12,27.23 L134.50,27.47 L134.88,27.70 L135.25,27.94 L135.63,28.19 L136.00,28.43 L136.38,28.68 L136.75,28.93 L137.13,29.18 L137.51,29.43 L137.88,29.68 L138.26,29.94 L138.63,30.20 L139.01,30.46 L139.38,30.72 L139.76,30.98 L140.14,31.25 L140.51,31.51 L140.89,31.78 L141.26,32.05 L141.64,32.32 L142.01,32.59 L142.39,32.86 L142.77,33.13 L143.14,33.40 L143.52,33.68 L143.89,33.95 L144.27,34.23 L144.64,34.50 L145.02,34.78 L145.40,35.06 L145.77,35.33 L146.15,35.61 L146.52,35.89 L146.90,36.17 L147.28,36.45 L147.65,36.72 L148.03,37.00 L148.40,37.28 L148.78,37.56 L149.15,37.84 L149.53,38.11 L149.91,38.39 L150.28,38.68 L150.66,38.96 L151.03,39.25 L151.41,39.54 L151.78,39.84 L152.16,40.14 L152.54,40.44 L152.91,40.74 L153.29,41.05 L153.66,41.36 L154.04,41.67 L154.41,41.98 L154.79,42.30 L155.17,42.62 L155.54,42.95 L155.92,43.27 L156.29,43.60 L156.67,43.94 L157.04,44.27 L157.42,44.61 L157.80,44.95 L158.17,45.29 L158.55,45.64 L158.92,45.99 L159.30,46.34 L159.67,46.70 L160.05,47.06 L160.43,47.42 L160.80,47.78 L161.18,48.15 L161.55,48.52 L161.93,48.89 L162.31,49.27 L162.68,49.64 L163.06,50.02 L163.43,50.41 L163.81,50.79 L164.18,51.18 L164.56,51.58 L164.94,51.97 L165.31,52.37 L165.69,52.77 L166.06,53.17 L166.44,53.58 L166.81,53.99 L167.19,54.40 L167.57,54.81 L167.94,55.23 L168.32,55.65 L168.69,56.07 L169.07,56.50 L169.44,56.92 L169.82,57.35 L170.20,57.79 L170.57,58.22 L170.95,58.66 L171.32,59.10 L171.70,59.55 L172.07,60.00 L172.45,60.45 L172.83,60.90 L173.20,61.35 L173.58,61.81 L173.95,62.27 L174.33,62.74 L174.70,63.22 L175.08,63.70 L175.46,64.20 L175.83,64.70 L176.21,65.21 L176.58,65.73 L176.96,66.25 L177.34,66.79 L177.71,67.32 L178.09,67.87 L178.46,68.42 L178.84,68.98 L179.21,69.55 L179.59,70.12 L179.97,70.69 L180.34,71.28 L180.72,71.86 L181.09,72.46 L181.47,73.05 L181.84,73.65 L182.22,74.26 L182.60,74.87 L182.97,75.48 L183.35,76.10 L183.72,76.72 L184.10,77.34 L184.47,77.97 L184.85,78.60 L185.23,79.23 L185.60,79.86 L185.98,80.49 L186.35,81.13 L186.73,81.77 L187.10,82.41 L187.48,83.05 L187.86,83.69 L188.23,84.33 L188.61,84.97 L188.98,85.62 L189.36,86.26 L189.73,86.90 L190.11,87.54 L190.49,88.18 L190.86,88.82 L191.24,89.46 L191.61,90.10 L191.99,90.73 L192.37,91.36 L192.74,92.00 L193.12,92.63 L193.49,93.27 L193.87,93.92 L194.24,94.57 L194.62,95.22 L195.00,95.87 L195.37,96.53 L195.75,97.20 L196.12,97.86 L196.50,98.53 L196.87,99.20 L197.25,99.87 L197.63,100.54 L198.00,101.22 L198.38,101.89 L198.75,102.57 L199.13,103.25 L199.50,103.93 L199.88,104.60 L200.26,105.28 L200.63,105.96 L201.01,106.64 L201.38,107.32 L201.76,108.00 L202.13,108.67 L202.51,109.35 L202.89,110.02 L203.26,110.70 L203.64,111.37 L204.01,112.03 L204.39,112.70 L204.76,113.36 L205.14,114.03 L205.52,114.69 L205.89,115.35 L206.27,116.01 L206.64,116.66 L207.02,117.32 L207.40,117.98 L207.77,118.63 L208.15,119.29 L208.52,119.95 L208.90,120.61 L209.27,121.26 L209.65,121.92 L210.03,122.58 L210.40,123.24 L210.78,123.91 L211.15,124.57 L211.53,125.24 L211.90,125.90 L212.28,126.57 L212.66,127.25 L213.03,127.92 L213.41,128.60 L213.78,129.28 L214.16,129.97 L214.53,130.66 L214.91,131.35 L215.29,132.04 L215.66,132.74 L216.04,133.45 L216.41,134.16 L216.79,134.88 L217.16,135.60 L217.54,136.32 L217.92,137.05 L218.29,137.78 L218.67,138.51 L219.04,139.24 L219.42,139.98 L219.79,140.72 L220.17,141.46 L220.55,142.20 L220.92,142.94 L221.30,143.68 L221.67,144.43 L222.05,145.17 L222.43,145.92 L222.80,146.67 L223.18,147.42 L223.55,148.17 L223.93,148.92 L224.30,149.67 L224.68,150.43 L225.06,151.18 L225.43,151.94 L225.81,152.70 L226.18,153.47 L226.56,154.23 L226.93,155.00 L227.31,155.76 L227.69,156.54 L228.06,157.31 L228.44,158.08 L228.81,158.86 L229.19,159.64 L229.56,160.42 L229.94,161.21 L230.32,162.00 L230.69,162.79 L231.07,163.59 L231.44,164.41 L231.82,165.23 L232.19,166.06 L232.57,166.89 L232.95,167.73 L233.32,168.56 L233.70,169.39 L234.07,170.22 L234.45,171.04 L234.82,171.84 L235.20,172.64 L235.58,173.42 L235.95,174.18 L236.33,174.94 L236.70,175.69 L237.08,176.42 L237.46,177.16 L237.83,177.88 L238.21,178.60 L238.58,179.31 L238.96,180.02 L239.33,180.72 L239.71,181.42 L240.09,182.12 L240.46,182.81 L240.84,183.51 L241.21,184.20 L241.59,184.90 L241.96,185.59 L242.34,186.29 L242.72,186.99 L243.09,187.69 L243.47,188.40 L243.84,189.11 L244.22,189.83 L244.59,190.55 L244.97,191.28 L245.35,192.02 L245.72,192.76 L246.10,193.52 L246.47,194.29 L246.85,195.06 L247.22,195.85 L247.60,196.64 L247.98,197.43 L248.35,198.23 L248.73,199.02 L249.10,199.80 L249.48,200.57 L249.85,201.33 L250.23,202.08 L250.61,202.82 L250.98,203.55 L251.36,204.27 L251.73,204.99 L252.11,205.71 L252.49,206.42 L252.86,207.13 L253.24,207.83 L253.61,208.53 L253.99,209.23 L254.36,209.92 L254.74,210.61 L255.12,211.30 L255.49,211.99 L255.87,212.68 L256.24,213.36 L256.62,214.04 L256.99,214.72 L257.37,215.40 L257.75,216.08 L258.12,216.76 L258.50,217.44 L258.87,218.12 L259.25,218.80 L259.62,219.49 L260.00,220.17 L260.38,220.86 L260.75,221.55 L261.13,222.25 L261.50,222.95 L261.88,223.65 L262.25,224.35 L262.63,225.06 L263.01,225.76 L263.38,226.46 L263.76,227.16 L264.13,227.86 L264.51,228.55 L264.88,229.24 L265.26,229.92 L265.64,230.59 L266.01,231.25 L266.39,231.91 L266.76,232.55 L267.14,233.19 L267.52,233.81 L267.89,234.42 L268.27,235.01 L268.64,235.59 L269.02,236.16 L269.39,236.72 L269.77,237.27 L270.15,237.81 L270.52,238.34 L270.90,238.87 L271.27,239.39 L271.65,239.90 L272.02,240.40 L272.40,240.90 L272.78,241.40 L273.15,241.89 L273.53,242.37 L273.90,242.85 L274.28,243.33 L274.65,243.81 L275.03,244.28 L275.41,244.76 L275.78,245.23 L276.16,245.70 L276.53,246.17 L276.91,246.65 L277.28,247.12 L277.66,247.60 L278.04,248.08 L278.41,248.56 L278.79,249.04 L279.16,249.53 L279.54,250.02 L279.91,250.52 L280.29,251.02 L280.67,251.53 L281.04,252.05 L281.42,252.57 L281.79,253.11 L282.17,253.65 L282.55,254.21 L282.92,254.77 L283.30,255.35 L283.67,255.93 L284.05,256.52 L284.42,257.11 L284.80,257.70 L285.18,258.30 L285.55,258.89 L285.93,259.48 L286.30,260.07 L286.68,260.65 L287.05,261.23 L287.43,261.80 L287.81,262.36 L288.18,262.90 L288.56,263.44 L288.93,263.96 L289.31,264.46 L289.68,264.95 L290.06,265.42 L290.44,265.87 L290.81,266.31 L291.19,266.74 L291.56,267.16 L291.94,267.57 L292.31,267.98 L292.69,268.39 L293.07,268.78 L293.44,269.17 L293.82,269.56 L294.19,269.94 L294.57,270.31 L294.94,270.68 L295.32,271.04 L295.70,271.40 L296.07,271.76 L296.45,272.11 L296.82,272.46 L297.20,272.81 L297.57,273.15 L297.95,273.49 L298.33,273.83 L298.70,274.16 L299.08,274.49 L299.45,274.83 L299.83,275.16 L300.21,275.48 L300.58,275.81 L300.96,276.14 L301.33,276.47 L301.71,276.79 L302.08,277.12 L302.46,277.45 L302.84,277.77 L303.21,278.10 L303.59,278.43 L303.96,278.77 L304.34,279.10 L304.71,279.44 L305.09,279.78 L305.47,280.11 L305.84,280.45 L306.22,280.79 L306.59,281.13 L306.97,281.46 L307.34,281.80 L307.72,282.13 L308.10,282.46 L308.47,282.78 L308.85,283.10 L309.22,283.42 L309.60,283.73 L309.97,284.03 L310.35,284.33 L310.73,284.63 L311.10,284.91 L311.48,285.19 L311.85,285.46 L312.23,285.72 L312.61,285.98 L312.98,286.22 L313.36,286.45 L313.73,286.68 L314.11,286.89 L314.48,287.10 L314.86,287.31 L315.24,287.52 L315.61,287.72 L315.99,287.92 L316.36,288.12 L316.74,288.31 L317.11,288.50 L317.49,288.69 L317.87,288.87 L318.24,289.06 L318.62,289.24 L318.99,289.42 L319.37,289.59 L319.74,289.76 L320.12,289.94 L320.50,290.10 L320.87,290.27 L321.25,290.44 L321.62,290.60 L322.00,290.76 L322.37,290.92 L322.75,291.07 L323.13,291.23 L323.50,291.38 L323.88,291.53 L324.25,291.68 L324.63,291.83 L325.00,291.98 L325.38,292.13 L325.76,292.27 L326.13,292.41 L326.51,292.55 L326.88,292.69 L327.26,292.83 L327.63,292.97 L328.01,293.11 L328.39,293.24 L328.76,293.38 L329.14,293.51 L329.51,293.65 L329.89,293.78 L330.27,293.91 L330.64,294.04 L331.02,294.17 L331.39,294.31 L331.77,294.44 L332.14,294.57 L332.52,294.69 L332.90,294.82 L333.27,294.95 L333.65,295.08 L334.02,295.21 L334.40,295.34 L334.77,295.47 L335.15,295.60 L335.53,295.73 L335.90,295.86 L336.28,295.99 L336.65,296.11 L337.03,296.24 L337.40,296.37 L337.78,296.50 L338.16,296.62 L338.53,296.74 L338.91,296.87 L339.28,296.99 L339.66,297.11 L340.03,297.23 L340.41,297.34 L340.79,297.46 L341.16,297.57 L341.54,297.68 L341.91,297.78 L342.29,297.89 L342.67,297.99 L343.04,298.09 L343.42,298.19 L343.79,298.28 L344.17,298.37 L344.54,298.46 L344.92,298.54 L345.30,298.62 L345.67,298.70 L346.05,298.77 L346.42,298.84 L346.80,298.90 L347.17,298.97 L347.55,299.03 L347.93,299.10 L348.30,299.16 L348.68,299.23 L349.05,299.29 L349.43,299.35 L349.80,299.41 L350.18,299.47 L350.56,299.53 L350.93,299.59 L351.31,299.65 L351.68,299.71 L352.06,299.76 L352.43,299.82 L352.81,299.88 L353.19,299.93 L353.56,299.98 L353.94,300.04 L354.31,300.09 L354.69,300.14 L355.06,300.19 L355.44,300.24 L355.82,300.29 L356.19,300.34 L356.57,300.39 L356.94,300.43 L357.32,300.48 L357.70,300.52 L358.07,300.57 L358.45,300.61 L358.82,300.65 L359.20,300.70 L359.57,300.74 L359.95,300.78 L360.33,300.82 L360.70,300.86 L361.08,300.89 L361.45,300.93 L361.83,300.97 L362.20,301.00 L362.58,301.04 L362.96,301.07 L363.33,301.10 L363.71,301.14 L364.08,301.17 L364.46,301.20 L364.83,301.23 L365.21,301.26 L365.59,301.29 L365.96,301.31 L366.34,301.34 L366.71,301.36 L367.09,301.39 L367.46,301.41 L367.84,301.44 L368.22,301.46 L368.59,301.48 L368.97,301.51 L369.34,301.53 L369.72,301.55 L370.09,301.57 L370.47,301.60 L370.85,301.62 L371.22,301.64 L371.60,301.66 L371.97,301.68 L372.35,301.70 L372.73,301.72 L373.10,301.74 L373.48,301.76 L373.85,301.78 L374.23,301.80 L374.60,301.82 L374.98,301.84 L375.36,301.86 L375.73,301.88 L376.11,301.90 L376.48,301.92 L376.86,301.93 L377.23,301.95 L377.61,301.97 L377.99,301.99 L378.36,302.00 L378.74,302.02 L379.11,302.03 L379.49,302.05 L379.86,302.06 L380.24,302.08 L380.62,302.09 L380.99,302.10 L381.37,302.12 L381.74,302.13 L382.12,302.14 L382.49,302.15 L382.87,302.16 L383.25,302.17 L383.62,302.19 L384.00,302.19 L384.37,302.20 L384.75,302.21 L385.12,302.22 L385.50,302.23 L385.88,302.24 L386.25,302.24 L386.63,302.25 L387.00,302.25 L387.38,302.26 L387.75,302.26 L388.13,302.27 L388.51,302.27 L388.88,302.27 L389.26,302.28 L389.63,302.28 L390.01,302.29 L390.39,302.29 L390.76,302.29 L391.14,302.30 L391.51,302.30 L391.89,302.30 L392.26,302.31 L392.64,302.31 L393.02,302.32 L393.39,302.32 L393.77,302.32 L394.14,302.33 L394.52,302.33 L394.89,302.33 L395.27,302.33 L395.65,302.34 L396.02,302.34 L396.40,302.34 L396.77,302.35 L397.15,302.35 L397.52,302.35 L397.90,302.35 L398.28,302.36 L398.65,302.36 L399.03,302.36 L399.40,302.36 L399.78,302.37 L400.15,302.37 L400.53,302.37 L400.91,302.37 L401.28,302.38 L401.66,302.38 L402.03,302.38 L402.41,302.38 L402.79,302.38 L403.16,302.38 L403.54,302.39 L403.91,302.39 L404.29,302.39 L404.66,302.39 L405.04,302.39 L405.42,302.39 L405.79,302.39 L406.17,302.39 L406.54,302.40 L406.92,302.40 L407.29,302.40 L407.67,302.40 L408.05,302.40 L408.42,302.40 L408.80,302.40 L409.17,302.40 L409.55,302.40 L409.92,302.40 L410.30,302.40" stroke="#ff0000" stroke-width="3.5" stroke-dasharray="20.8 13.8"/>
</g>


<g clip-path="url(#clipb)" fill="none">
<path d="M601.15,295.96 L841.15,12.52" stroke="#000" stroke-width="2.5" stroke-dasharray="2.3 6.35"/>
</g>
<g fill="#0000ff"><circle cx="601.30" cy="300.89" r="2.6"/><circle cx="641.88" cy="252.91" r="2.6"/><circle cx="665.62" cy="225.60" r="2.6"/><circle cx="682.46" cy="206.57" r="2.6"/><circle cx="695.52" cy="192.00" r="2.6"/><circle cx="706.19" cy="180.22" r="2.6"/><circle cx="715.22" cy="170.35" r="2.6"/><circle cx="723.04" cy="161.87" r="2.6"/><circle cx="729.93" cy="154.44" r="2.6"/><circle cx="736.10" cy="147.83" r="2.6"/><circle cx="741.68" cy="141.88" r="2.6"/><circle cx="746.77" cy="136.48" r="2.6"/><circle cx="751.46" cy="131.54" r="2.6"/><circle cx="755.80" cy="126.98" r="2.6"/><circle cx="759.84" cy="122.75" r="2.6"/><circle cx="763.62" cy="118.81" r="2.6"/><circle cx="767.16" cy="115.12" r="2.6"/><circle cx="770.51" cy="111.66" r="2.6"/><circle cx="773.68" cy="108.39" r="2.6"/><circle cx="776.68" cy="105.30" r="2.6"/><circle cx="779.54" cy="102.37" r="2.6"/><circle cx="782.26" cy="99.58" r="2.6"/><circle cx="784.86" cy="96.92" r="2.6"/><circle cx="787.35" cy="94.38" r="2.6"/><circle cx="789.74" cy="91.96" r="2.6"/><circle cx="792.04" cy="89.63" r="2.6"/><circle cx="794.25" cy="87.39" r="2.6"/><circle cx="796.38" cy="85.24" r="2.6"/><circle cx="798.43" cy="83.18" r="2.6"/><circle cx="800.42" cy="81.18" r="2.6"/><circle cx="802.34" cy="79.25" r="2.6"/><circle cx="804.19" cy="77.39" r="2.6"/><circle cx="806.00" cy="75.59" r="2.6"/><circle cx="807.74" cy="73.85" r="2.6"/><circle cx="809.44" cy="72.16" r="2.6"/><circle cx="811.09" cy="70.52" r="2.6"/><circle cx="812.69" cy="68.93" r="2.6"/><circle cx="814.25" cy="67.38" r="2.6"/><circle cx="815.78" cy="65.87" r="2.6"/><circle cx="817.26" cy="64.41" r="2.6"/><circle cx="818.70" cy="62.98" r="2.6"/><circle cx="820.11" cy="61.59" r="2.6"/><circle cx="821.49" cy="60.24" r="2.6"/><circle cx="822.84" cy="58.91" r="2.6"/><circle cx="824.15" cy="57.62" r="2.6"/><circle cx="825.44" cy="56.36" r="2.6"/><circle cx="826.70" cy="55.13" r="2.6"/><circle cx="827.93" cy="53.93" r="2.6"/><circle cx="829.14" cy="52.75" r="2.6"/><circle cx="830.32" cy="51.59" r="2.6"/><circle cx="831.48" cy="50.47" r="2.6"/><circle cx="832.62" cy="49.36" r="2.6"/><circle cx="833.73" cy="48.28" r="2.6"/><circle cx="834.83" cy="47.21" r="2.6"/><circle cx="835.90" cy="46.17" r="2.6"/><circle cx="836.96" cy="45.15" r="2.6"/><circle cx="837.99" cy="44.15" r="2.6"/><circle cx="839.01" cy="43.17" r="2.6"/><circle cx="840.01" cy="42.20" r="2.6"/><circle cx="840.99" cy="41.25" r="2.6"/><circle cx="841.96" cy="40.32" r="2.6"/><circle cx="842.91" cy="39.40" r="2.6"/><circle cx="843.85" cy="38.50" r="2.6"/><circle cx="844.77" cy="37.62" r="2.6"/><circle cx="845.68" cy="36.75" r="2.6"/><circle cx="846.57" cy="35.89" r="2.6"/><circle cx="847.45" cy="35.05" r="2.6"/><circle cx="848.32" cy="34.22" r="2.6"/><circle cx="849.18" cy="33.40" r="2.6"/><circle cx="850.02" cy="32.59" r="2.6"/><circle cx="850.85" cy="31.80" r="2.6"/><circle cx="851.67" cy="31.02" r="2.6"/><circle cx="852.48" cy="30.25" r="2.6"/><circle cx="853.27" cy="29.49" r="2.6"/><circle cx="854.06" cy="28.75" r="2.6"/><circle cx="854.83" cy="28.01" r="2.6"/><circle cx="855.60" cy="27.28" r="2.6"/><circle cx="856.35" cy="26.57" r="2.6"/><circle cx="857.10" cy="25.86" r="2.6"/><circle cx="857.84" cy="25.16" r="2.6"/><circle cx="858.56" cy="24.47" r="2.6"/><circle cx="859.28" cy="23.79" r="2.6"/><circle cx="859.99" cy="23.12" r="2.6"/><circle cx="860.69" cy="22.46" r="2.6"/><circle cx="861.39" cy="21.81" r="2.6"/><circle cx="862.07" cy="21.16" r="2.6"/><circle cx="862.75" cy="20.52" r="2.6"/><circle cx="863.42" cy="19.89" r="2.6"/><circle cx="864.08" cy="19.27" r="2.6"/><circle cx="864.73" cy="18.65" r="2.6"/></g>
<g clip-path="url(#clipb)" fill="none">
<path d="M601.30,300.89 L602.18,299.84 L603.06,298.78 L603.94,297.72 L604.82,296.66 L605.71,295.60 L606.59,294.55 L607.47,293.49 L608.35,292.44 L609.23,291.38 L610.11,290.33 L610.99,289.28 L611.87,288.23 L612.75,287.18 L613.63,286.12 L614.52,285.07 L615.40,284.03 L616.28,282.98 L617.16,281.93 L618.04,280.88 L618.92,279.83 L619.80,278.79 L620.68,277.74 L621.56,276.70 L622.45,275.65 L623.33,274.61 L624.21,273.57 L625.09,272.53 L625.97,271.49 L626.85,270.44 L627.73,269.40 L628.61,268.37 L629.49,267.33 L630.37,266.29 L631.26,265.25 L632.14,264.21 L633.02,263.18 L633.90,262.14 L634.78,261.11 L635.66,260.07 L636.54,259.04 L637.42,258.01 L638.30,256.98 L639.18,255.94 L640.07,254.91 L640.95,253.88 L641.83,252.85 L642.71,251.83 L643.59,250.80 L644.47,249.77 L645.35,248.74 L646.23,247.72 L647.11,246.69 L648.00,245.67 L648.88,244.64 L649.76,243.62 L650.64,242.60 L651.52,241.57 L652.40,240.55 L653.28,239.53 L654.16,238.51 L655.04,237.49 L655.92,236.47 L656.81,235.46 L657.69,234.44 L658.57,233.42 L659.45,232.40 L660.33,231.39 L661.21,230.37 L662.09,229.36 L662.97,228.35 L663.85,227.33 L664.74,226.32 L665.62,225.31 L666.50,224.30 L667.38,223.29 L668.26,222.28 L669.14,221.27 L670.02,220.26 L670.90,219.25 L671.78,218.25 L672.66,217.24 L673.55,216.24 L674.43,215.23 L675.31,214.23 L676.19,213.22 L677.07,212.22 L677.95,211.22 L678.83,210.22 L679.71,209.22 L680.59,208.22 L681.47,207.22 L682.36,206.22 L683.24,205.22 L684.12,204.22 L685.00,203.22 L685.88,202.23 L686.76,201.23 L687.64,200.24 L688.52,199.24 L689.40,198.25 L690.29,197.26 L691.17,196.26 L692.05,195.27 L692.93,194.28 L693.81,193.29 L694.69,192.30 L695.57,191.31 L696.45,190.32 L697.33,189.34 L698.21,188.35 L699.10,187.36 L699.98,186.38 L700.86,185.39 L701.74,184.41 L702.62,183.42 L703.50,182.44 L704.38,181.46 L705.26,180.48 L706.14,179.50 L707.03,178.52 L707.91,177.54 L708.79,176.56 L709.67,175.58 L710.55,174.60 L711.43,173.62 L712.31,172.65 L713.19,171.67 L714.07,170.70 L714.95,169.72 L715.84,168.75 L716.72,167.78 L717.60,166.80 L718.48,165.83 L719.36,164.86 L720.24,163.89 L721.12,162.92 L722.00,161.95 L722.88,160.98 L723.76,160.02 L724.65,159.05 L725.53,158.08 L726.41,157.12 L727.29,156.15 L728.17,155.19 L729.05,154.22 L729.93,153.26 L730.81,152.30 L731.69,151.34 L732.58,150.37 L733.46,149.41 L734.34,148.45 L735.22,147.49 L736.10,146.54 L736.98,145.58 L737.86,144.62 L738.74,143.66 L739.62,142.71 L740.50,141.75 L741.39,140.80 L742.27,139.85 L743.15,138.89 L744.03,137.94 L744.91,136.99 L745.79,136.04 L746.67,135.09 L747.55,134.14 L748.43,133.19 L749.32,132.24 L750.20,131.29 L751.08,130.34 L751.96,129.40 L752.84,128.45 L753.72,127.51 L754.60,126.56 L755.48,125.62 L756.36,124.67 L757.24,123.73 L758.13,122.79 L759.01,121.85 L759.89,120.91 L760.77,119.97 L761.65,119.03 L762.53,118.09 L763.41,117.15 L764.29,116.21 L765.17,115.28 L766.06,114.34 L766.94,113.41 L767.82,112.47 L768.70,111.54 L769.58,110.61 L770.46,109.67 L771.34,108.74 L772.22,107.81 L773.10,106.88 L773.98,105.95 L774.87,105.02 L775.75,104.09 L776.63,103.16 L777.51,102.24 L778.39,101.31 L779.27,100.38 L780.15,99.46 L781.03,98.53 L781.91,97.61 L782.79,96.69 L783.68,95.76 L784.56,94.84 L785.44,93.92 L786.32,93.00 L787.20,92.08 L788.08,91.16 L788.96,90.24 L789.84,89.32 L790.72,88.41 L791.61,87.49 L792.49,86.57 L793.37,85.66 L794.25,84.74 L795.13,83.83 L796.01,82.92 L796.89,82.00 L797.77,81.09 L798.65,80.18 L799.53,79.27 L800.42,78.36 L801.30,77.45 L802.18,76.54 L803.06,75.63 L803.94,74.72 L804.82,73.82 L805.70,72.91 L806.58,72.01 L807.46,71.10 L808.35,70.20 L809.23,69.29 L810.11,68.39 L810.99,67.49 L811.87,66.59 L812.75,65.69 L813.63,64.79 L814.51,63.89 L815.39,62.99 L816.27,62.09 L817.16,61.19 L818.04,60.30 L818.92,59.40 L819.80,58.50 L820.68,57.61 L821.56,56.72 L822.44,55.82 L823.32,54.93 L824.20,54.04 L825.08,53.15 L825.97,52.25 L826.85,51.36 L827.73,50.47 L828.61,49.59 L829.49,48.70 L830.37,47.81 L831.25,46.92 L832.13,46.04 L833.01,45.15 L833.90,44.27 L834.78,43.38 L835.66,42.50 L836.54,41.62 L837.42,40.73 L838.30,39.85 L839.18,38.97 L840.06,38.09 L840.94,37.21 L841.82,36.33 L842.71,35.45 L843.59,34.58 L844.47,33.70 L845.35,32.82 L846.23,31.95 L847.11,31.07 L847.99,30.20 L848.87,29.33 L849.75,28.45 L850.64,27.58 L851.52,26.71 L852.40,25.84 L853.28,24.97 L854.16,24.10 L855.04,23.23 L855.92,22.36 L856.80,21.49 L857.68,20.63 L858.56,19.76 L859.45,18.89 L860.33,18.03 L861.21,17.16 L862.09,16.30 L862.97,15.44 L863.85,14.58 L864.73,13.71" stroke="#ff0000" stroke-width="2.8"/>
</g>


<g font-family='"Liberation Serif", serif' fill="#000">
<text x="2.2" y="24.0" font-size="29.5">(<tspan font-style="italic">a</tspan><tspan dx="1">)</tspan></text>
<text x="456.0" y="24.0" font-size="29.5">(<tspan font-style="italic">b</tspan><tspan dx="1">)</tspan></text>
<text x="96.4" y="36.2" text-anchor="end" font-size="35">1</text>
<text x="96.4" y="173.5" text-anchor="end" font-size="35">0.5</text>
<text x="96.4" y="311.0" text-anchor="end" font-size="35">0</text>
<text x="109.85" y="344.4" text-anchor="middle" font-size="35">0</text>
<text x="259.5" y="344.4" text-anchor="middle" font-size="35">1</text>
<text x="410.1" y="344.4" text-anchor="middle" font-size="35">2</text>
<text transform="translate(249.32,392.77) scale(0.9944,1)" font-family='"DejaVu Serif", "Liberation Serif", serif' font-size="34.76" font-style="italic">v</text>
<g transform="translate(29.3,216) rotate(-90)">
<text transform="translate(2.77,-0.06) scale(0.9445,1)" font-family='"DejaVu Serif", "Liberation Serif", serif' font-size="36.46" font-style="italic">f</text>
<text transform="translate(27.09,4.97) scale(0.6022,1)" font-family='"DejaVu Serif", "Liberation Serif", serif' font-size="47.64" font-style="italic">/</text>
<text transform="translate(45.27,-0.06) scale(0.9016,1)" font-family='"DejaVu Serif", "Liberation Serif", serif' font-size="36.46" font-style="italic">f</text>
<text transform="translate(58.81,5.69) scale(1.1293,1)" font-family='"Liberation Serif", serif' font-size="26.15">max</text>
</g>
<text x="586.6" y="27.5" text-anchor="end" font-size="35">0.03</text>
<text x="586.6" y="83.6" text-anchor="end" font-size="35">0.02</text>
<text x="586.6" y="180.3" text-anchor="end" font-size="35">0.01</text>
<text x="586.6" y="307.2" text-anchor="end" font-size="35">0.004</text>
<text transform="translate(701.50,344.55) scale(1.0487,1)" font-family='"Liberation Serif", serif' font-size="34.96">10</text>
<text transform="translate(736.65,335.36) scale(1.0282,1)" font-family='"Liberation Serif", serif' font-size="32.00">−</text>
<text transform="translate(754.01,332.60) scale(1.1641,1)" font-family='"Liberation Serif", serif' font-size="24.70">2</text>
<text transform="translate(707.21,391.57) scale(1.0714,1)" font-family='"DejaVu Serif", "Liberation Serif", serif' font-size="34.56" font-style="italic">ν</text>
<text transform="translate(725.42,398.82) scale(0.9891,1)" font-family='"DejaVu Serif", "Liberation Serif", serif' font-size="23.74">∗</text>
<text transform="translate(741.71,391.36) scale(0.9055,1)" font-family='"DejaVu Serif", "Liberation Serif", serif' font-size="35.97" font-style="italic">t</text>
<g transform="translate(483.3,227.2) rotate(-90)">
<text transform="translate(-0.44,0.19) scale(1.2371,1)" font-family='"Liberation Serif", serif' font-size="37.85" font-style="italic">n</text>
<text transform="translate(19.74,6.19) scale(1.1176,1)" font-family='"Liberation Serif", serif' font-size="26.05">scat.</text>
<text transform="translate(81.51,4.82) scale(0.6798,1)" font-family='"DejaVu Serif", "Liberation Serif", serif' font-size="46.06" font-style="italic">/</text>
<text transform="translate(97.78,0.19) scale(1.2247,1)" font-family='"Liberation Serif", serif' font-size="37.85" font-style="italic">n</text>
<text transform="translate(118.83,5.30) scale(1.0248,1)" font-family='"Liberation Serif", serif' font-size="25.65">1</text>
</g>
</g>

</svg>
</body></html>
